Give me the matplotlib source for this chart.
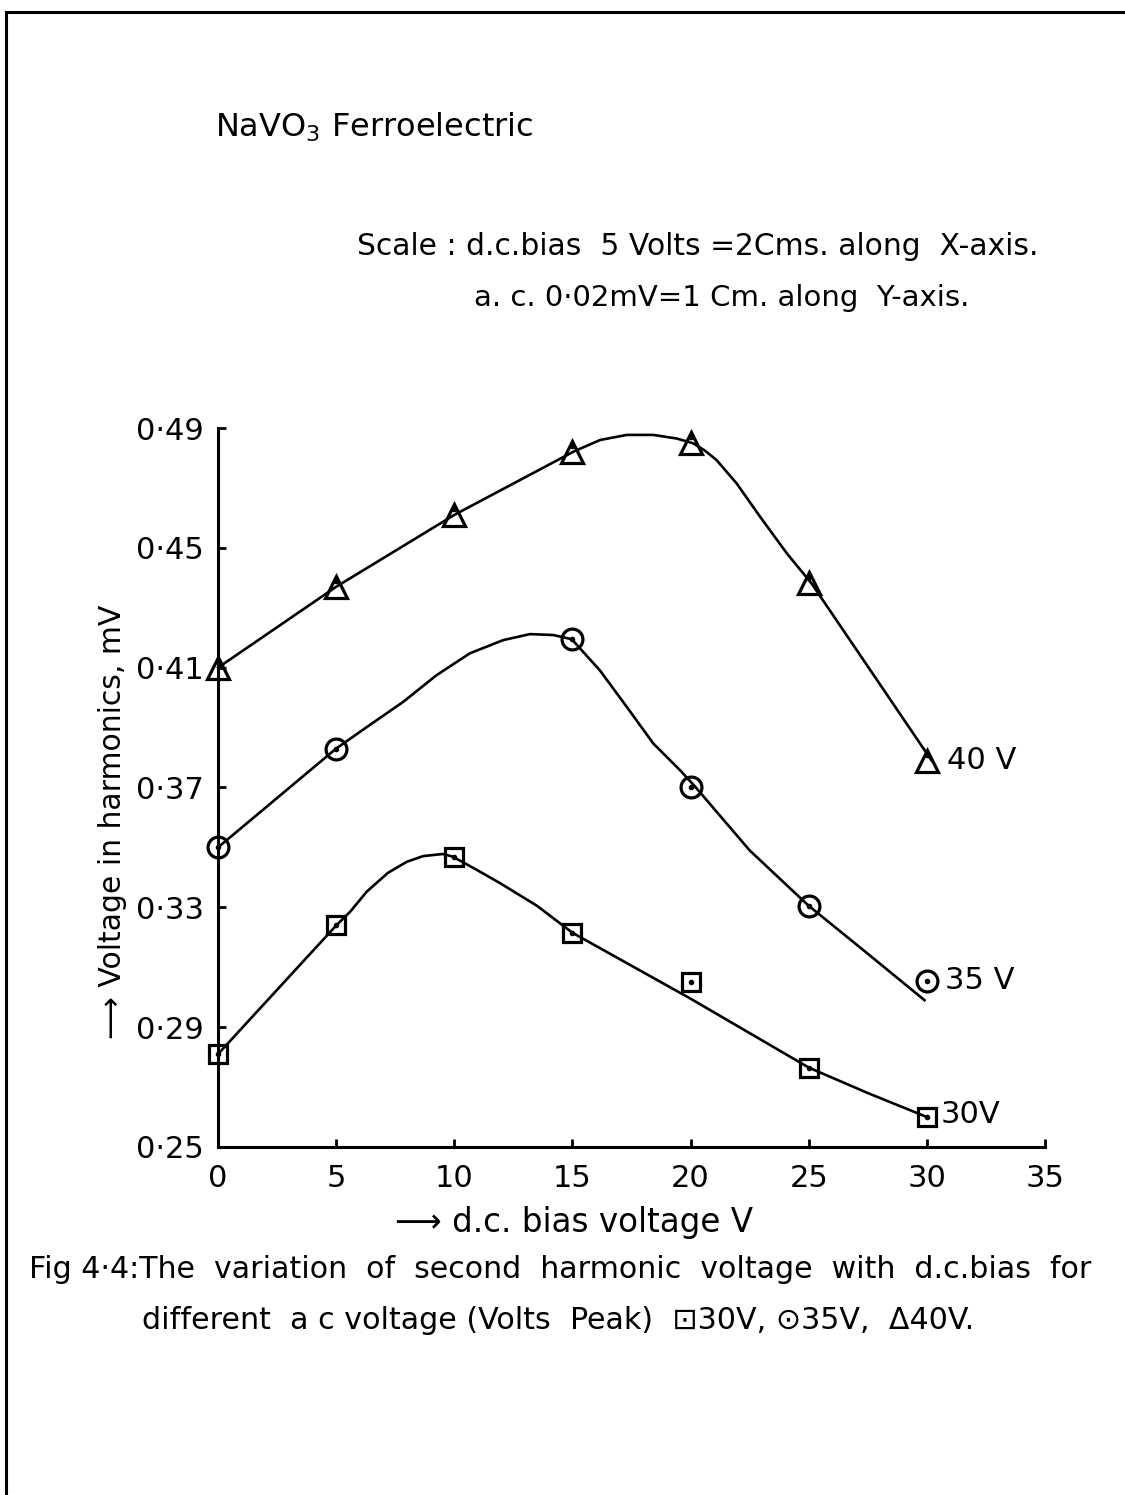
import matplotlib
matplotlib.use("Agg")
import matplotlib.pyplot as plt
from matplotlib.lines import Line2D

plt.rcParams['font.family'] = ['DejaVu Sans']

# measured points (d.c. bias V, second harmonic mV)
bias = [0, 5, 10, 15, 20, 25, 30]
v30 = [0.281, 0.3241, 0.3469, 0.3215, 0.305, 0.2765, 0.260]
bias35 = [0, 5, 15, 20, 25, 30]
v35 = [0.350, 0.383, 0.4195, 0.3703, 0.3305, 0.3055]
v40 = [0.410, 0.437, 0.461, 0.4821, 0.4849, 0.4381, 0.379]

# hand drawn curves
c30_x = [0, 5.02, 5.59, 6.29, 7.19, 7.99, 8.68, 9.52, 9.94, 10.95, 11.93, 13.5,
         15, 17.5, 20, 22.5, 25, 27.5, 30]
c30_y = [0.281, 0.3241, 0.3285, 0.3352, 0.3415, 0.3452, 0.3471, 0.3478, 0.3469,
         0.3425, 0.3381, 0.3305, 0.3215, 0.3105, 0.2995, 0.288, 0.2765, 0.268, 0.260]
c35_x = [0, 5, 6.43, 7.84, 9.25, 10.66, 12.07, 13.2, 14.19, 14.97, 16.17, 17.29,
         18.42, 19.55, 20.19, 22.5, 25, 27.5, 29.9]
c35_y = [0.350, 0.383, 0.3909, 0.3986, 0.4075, 0.4148, 0.4192, 0.4212, 0.4209, 0.4195,
         0.409, 0.397, 0.3847, 0.3758, 0.3703, 0.349, 0.3305, 0.3145, 0.299]
c40_x = [0, 5, 10, 15.04, 16.17, 17.3, 18.42, 19.41, 20.11, 20.6, 21.1, 21.95, 22.94,
         24.07, 25.12, 30.2]
c40_y = [0.410, 0.437, 0.461, 0.4821, 0.486, 0.4877, 0.4877, 0.4865, 0.4849, 0.4825,
         0.4793, 0.4715, 0.4604, 0.4482, 0.4381, 0.379]

xticks = [0, 5, 10, 15, 20, 25, 30, 35]
yticks = [0.25, 0.29, 0.33, 0.37, 0.41, 0.45, 0.49]
ytick_labels = ['0·25', '0·29', '0·33', '0·37', '0·41', '0·45', '0·49']

fig = plt.figure(figsize=(11.25, 14.95), dpi=100)
ax = fig.add_axes([0.1938, 0.2328, 0.7351, 0.4809])
ax.set_xlim(0, 35)
ax.set_ylim(0.25, 0.49)

lw = 1.9
for cx, cy in [(c30_x, c30_y), (c35_x, c35_y), (c40_x, c40_y)]:
    ax.plot(cx, cy, color='black', lw=lw, clip_on=False, solid_joinstyle='round')

mk = dict(color='black', ls='none', mfc='none', mew=2.3, clip_on=False, zorder=4)
ax.plot(bias, v30, marker='s', ms=13, **mk)
ax.plot(bias35, v35, marker='o', ms=15, **mk)
ax.plot(bias, v40, marker='^', ms=16, **mk)
dot = dict(color='black', ls='none', marker='o', ms=3, clip_on=False, zorder=5)
ax.plot(bias, v30, **dot)
ax.plot(bias35, v35, **dot)
ax.plot(bias, [v + 0.002 for v in v40], **dot)

lab = dict(fontsize=22, va='center', ha='left')
ax.text(bias[-1] + 0.85, v40[-1], '40 V', **lab)
ax.text(bias35[-1] + 0.75, v35[-1], '35 V', **lab)
ax.text(bias[-1] + 0.6, v30[-1] + 0.001, '30V', **lab)

for s in ['top', 'right']:
    ax.spines[s].set_visible(False)
for s in ['left', 'bottom']:
    ax.spines[s].set_linewidth(2.2)
ax.set_xticks(xticks)
ax.set_xticklabels([str(t) for t in xticks])
ax.set_yticks(yticks)
ax.set_yticklabels(ytick_labels)
ax.tick_params(direction='in', length=6, width=2, labelsize=22)
ax.tick_params(axis='x', pad=12)
ax.tick_params(axis='y', pad=10)

fig.text(0.100, 0.450, '⟶ Voltage in harmonics, mV', rotation=90,
         fontsize=21.5, ha='center', va='center')
fig.text(0.510, 0.182, '⟶ d.c. bias voltage V', fontsize=23.5, ha='center', va='center')

fig.text(0.191, 0.915, 'NaVO$_3$ Ferroelectric', fontsize=23, ha='left', va='center')
fig.text(0.317, 0.835, 'Scale : d.c.bias  5 Volts =2Cms. along  X-axis.', fontsize=21.4,
         ha='left', va='center')
fig.text(0.421, 0.801, 'a. c. 0·02mV=1 Cm. along  Y-axis.', fontsize=21,
         ha='left', va='center')

fig.text(0.026, 0.151, 'Fig 4·4:The  variation  of  second  harmonic  voltage  with  d.c.bias  for',
         fontsize=21.6, ha='left', va='center')
fig.text(0.126, 0.117, 'different  a c voltage (Volts  Peak)  ⊡30V, ⊙35V,  Δ40V.',
         fontsize=21.7, ha='left', va='center')

# page border (left and top edges of the scanned sheet)
fig.add_artist(Line2D([0.005, 0.005], [0.0, 0.992], color='black', lw=2.2))
fig.add_artist(Line2D([0.005, 1.0], [0.992, 0.992], color='black', lw=2.2))

fig.savefig('out.png', dpi=100)
